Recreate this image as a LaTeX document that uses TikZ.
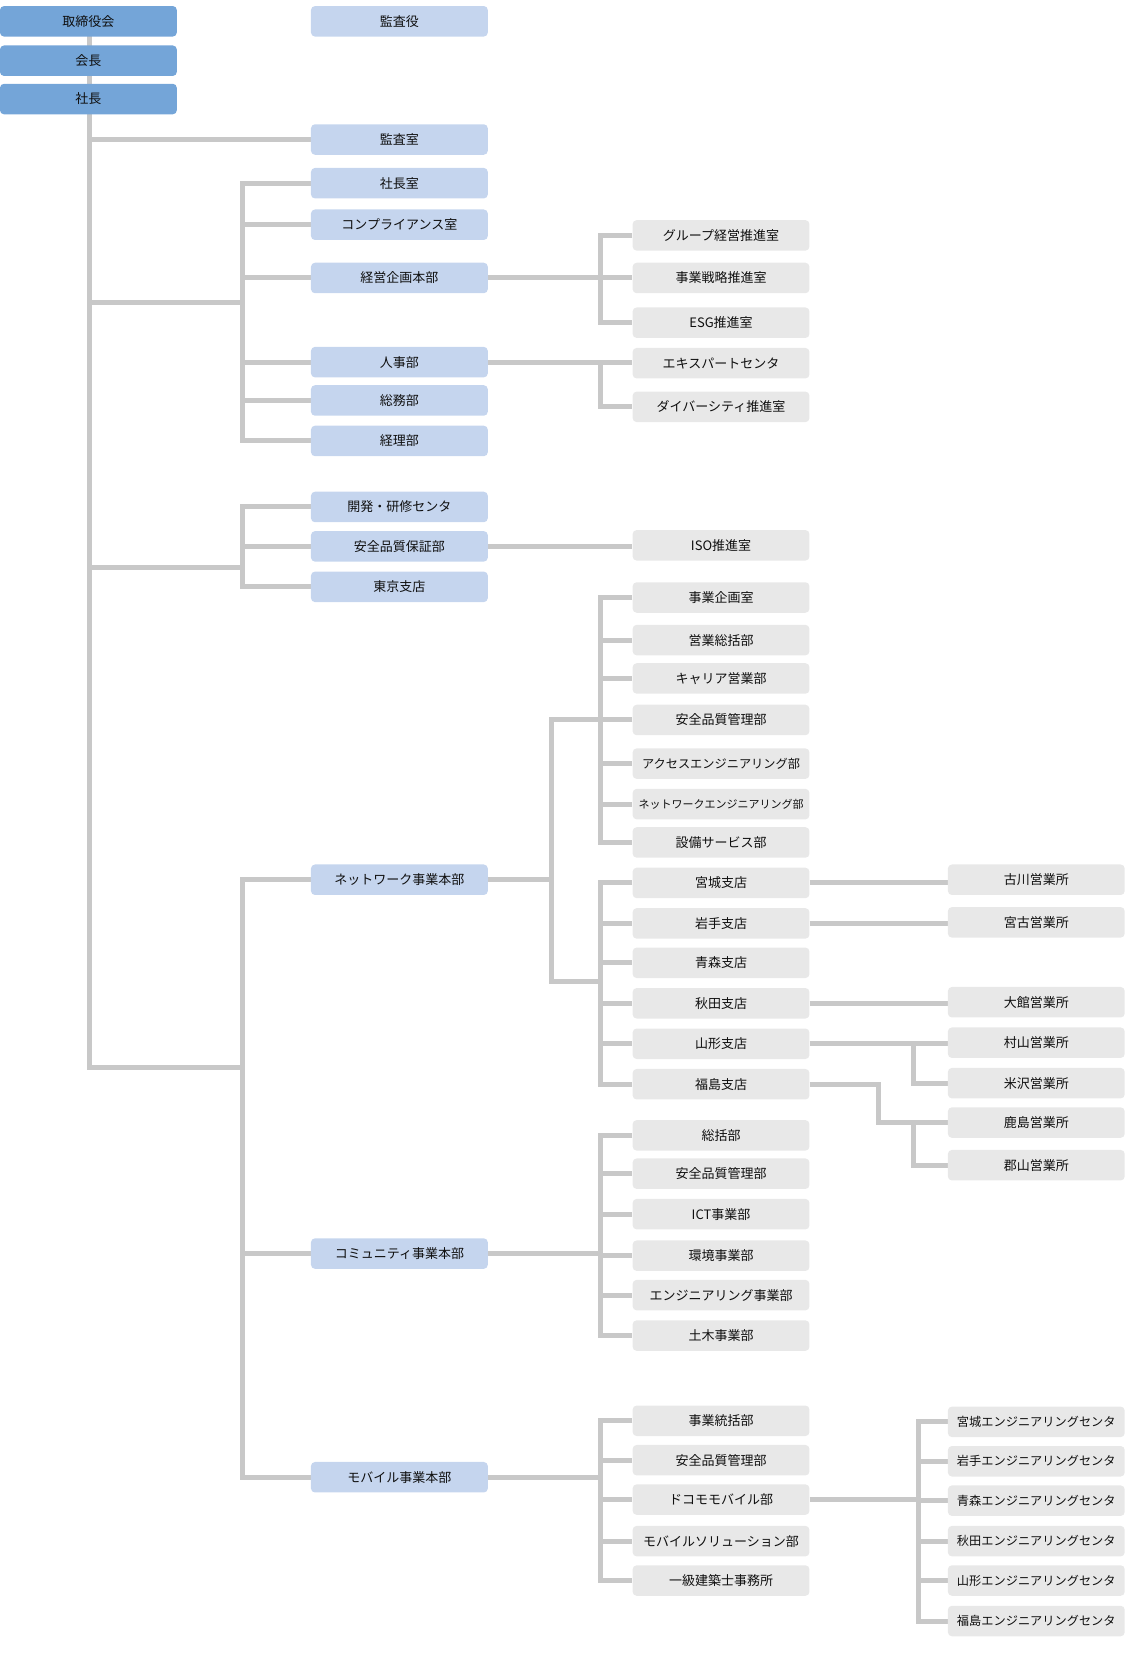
\documentclass[tikz,border=0pt]{standalone}
\usepackage{fontspec}
\setmainfont{Noto Sans CJK JP}
\usetikzlibrary{backgrounds}
\definecolor{topblue}{RGB}{116,165,216}
\definecolor{midblue}{RGB}{197,213,238}
\definecolor{boxgray}{RGB}{232,232,232}
\definecolor{linegray}{RGB}{200,200,200}
\definecolor{txt}{RGB}{15,15,15}
\tikzset{
  box/.style={rounded corners=4pt, minimum width=176.8pt, minimum height=30.5pt, inner sep=0pt, text=txt, font=\fontsize{13}{15}\selectfont},
  topbox/.style={box, fill=topblue},
  midbox/.style={box, fill=midblue},
  graybox/.style={box, fill=boxgray},
  smallf/.style={font=\fontsize{12.2}{14}\selectfont},
  tinyf/.style={font=\fontsize{11}{14}\selectfont},
  conn/.style={draw=linegray, line width=5pt},
}
\begin{document}
\begin{tikzpicture}[x=1.0649pt, y=-1.0649pt]
\useasboundingbox (0,0) rectangle (1063,1568);
% column 1
\node[topbox] (board) at (83,20) {取締役会};
\node[topbox] (chair) at (83,57) {会長};
\node[topbox] (pres) at (83,93) {社長};
% column 2
\node[midbox] (auditor) at (375,20) {監査役};
\node[midbox] (auditoff) at (375,131) {監査室};
\node[midbox] (presoff) at (375,172) {社長室};
\node[midbox] (compl) at (375,211) {コンプライアンス室};
\node[midbox] (plan) at (375,261) {経営企画本部};
\node[midbox] (hr) at (375,340) {人事部};
\node[midbox] (ga) at (375,376) {総務部};
\node[midbox] (acct) at (375,414) {経理部};
\node[midbox] (dev) at (375,476) {開発・研修センタ};
\node[midbox] (qa) at (375,513) {安全品質保証部};
\node[midbox] (tokyo) at (375,551) {東京支店};
\node[midbox] (nw) at (375,826) {ネットワーク事業本部};
\node[midbox] (comm) at (375,1177) {コミュニティ事業本部};
\node[midbox] (mob) at (375,1387) {モバイル事業本部};
% column 3
\node[graybox] (grp) at (677,221) {グループ経営推進室};
\node[graybox] (strat) at (677,261) {事業戦略推進室};
\node[graybox] (esg) at (677,303) {ESG推進室};
\node[graybox] (expert) at (677,341) {エキスパートセンタ};
\node[graybox] (div) at (677,382) {ダイバーシティ推進室};
\node[graybox] (iso) at (677,512) {ISO推進室};
\node[graybox] (nwa) at (677,561) {事業企画室};
\node[graybox] (nwb) at (677,601) {営業総括部};
\node[graybox] (nwc) at (677,637) {キャリア営業部};
\node[graybox] (nwd) at (677,676) {安全品質管理部};
\node[graybox, smallf] (nwe) at (677,717) {アクセスエンジニアリング部};
\node[graybox, tinyf] (nwf) at (677,755) {ネットワークエンジニアリング部};
\node[graybox] (nwg) at (677,791) {設備サービス部};
\node[graybox] (br1) at (677,829) {宮城支店};
\node[graybox] (br2) at (677,867) {岩手支店};
\node[graybox] (br3) at (677,904) {青森支店};
\node[graybox] (br4) at (677,942) {秋田支店};
\node[graybox] (br5) at (677,980) {山形支店};
\node[graybox] (br6) at (677,1018) {福島支店};
\node[graybox] (cma) at (677,1066) {総括部};
\node[graybox] (cmb) at (677,1102) {安全品質管理部};
\node[graybox] (cmc) at (677,1140) {ICT事業部};
\node[graybox] (cmd) at (677,1179) {環境事業部};
\node[graybox] (cme) at (677,1216) {エンジニアリング事業部};
\node[graybox] (cmf) at (677,1254) {土木事業部};
\node[graybox] (mba) at (677,1334) {事業統括部};
\node[graybox] (mbb) at (677,1371) {安全品質管理部};
\node[graybox] (mbc) at (677,1408) {ドコモモバイル部};
\node[graybox] (mbd) at (677,1447) {モバイルソリューション部};
\node[graybox] (mbe) at (677,1484) {一級建築士事務所};
% column 4
\node[graybox] (of1) at (973,826) {古川営業所};
\node[graybox] (of2) at (973,866) {宮古営業所};
\node[graybox] (of3) at (973,941) {大館営業所};
\node[graybox] (of4) at (973,979) {村山営業所};
\node[graybox] (of5) at (973,1017) {米沢営業所};
\node[graybox] (of6) at (973,1054) {鹿島営業所};
\node[graybox] (of7) at (973,1094) {郡山営業所};
\node[graybox, smallf] (ec1) at (973,1335) {宮城エンジニアリングセンタ};
\node[graybox, smallf] (ec2) at (973,1372) {岩手エンジニアリングセンタ};
\node[graybox, smallf] (ec3) at (973,1409) {青森エンジニアリングセンタ};
\node[graybox, smallf] (ec4) at (973,1447) {秋田エンジニアリングセンタ};
\node[graybox, smallf] (ec5) at (973,1484) {山形エンジニアリングセンタ};
\node[graybox, smallf] (ec6) at (973,1522) {福島エンジニアリングセンタ};
% junction coordinates
\coordinate (J1) at (84,284);
\coordinate (J2) at (84,533);
\coordinate (J3) at (84,1002);
\coordinate (B1) at (228,284);
\coordinate (B2) at (228,533);
\coordinate (B3) at (228,1002);
\coordinate (C) at (564,0);
\coordinate (D1) at (518,676);
\coordinate (D2) at (518,922);
\coordinate (C2) at (564,922);
\coordinate (E) at (858,0);
\coordinate (G) at (825,0);
\coordinate (F) at (862,0);
\begin{scope}[on background layer]
% trunk
\draw[conn] (board.center -| J3) -- (J3) -- (B3);
\draw[conn] (auditoff.west -| J3) -- (auditoff.west);
\draw[conn] (J1) -- (B1);
\draw[conn] (J2) -- (B2);
% group 1
\draw[conn] (presoff.west) -- (presoff.west -| B1) -- (acct.west -| B1) -- (acct.west);
\foreach \n in {compl,plan,hr,ga} \draw[conn] (\n.west -| B1) -- (\n.west);
% group 2
\draw[conn] (dev.west) -- (dev.west -| B2) -- (tokyo.west -| B2) -- (tokyo.west);
\draw[conn] (qa.west -| B2) -- (qa.west);
% group 3
\draw[conn] (nw.west) -- (nw.west -| B3) -- (mob.west -| B3) -- (mob.west);
\draw[conn] (comm.west -| B3) -- (comm.west);
% planning
\draw[conn] (plan.east) -- (strat.west);
\draw[conn] (grp.west) -- (grp.west -| C) -- (esg.west -| C) -- (esg.west);
% hr
\draw[conn] (hr.east) -- (hr.east -| expert.west);
\draw[conn] (hr.east -| C) -- (div.west -| C) -- (div.west);
% qa
\draw[conn] (qa.east) -- (qa.east -| iso.west);
% network
\draw[conn] (nw.east) -- (nw.east -| D1);
\draw[conn] (nwd.west) -- (D1) -- (D2) -- (C2);
\draw[conn] (nwa.west) -- (nwa.west -| C) -- (nwg.west -| C) -- (nwg.west);
\foreach \n in {nwb,nwc,nwe,nwf} \draw[conn] (\n.west -| C) -- (\n.west);
\draw[conn] (br1.west) -- (br1.west -| C) -- (br6.west -| C) -- (br6.west);
\foreach \n in {br2,br3,br4,br5} \draw[conn] (\n.west -| C) -- (\n.west);
% offices
\draw[conn] (br1.east) -- (br1.east -| of1.west);
\draw[conn] (br2.east) -- (br2.east -| of2.west);
\draw[conn] (br4.east) -- (br4.east -| of3.west);
\draw[conn] (br5.east) -- (br5.east -| of4.west);
\draw[conn] (br5.east -| E) -- (of5.west -| E) -- (of5.west);
\draw[conn] (br6.east) -- (br6.east -| G) -- (of6.west -| G) -- (of6.west);
\draw[conn] (of6.west -| E) -- (of7.west -| E) -- (of7.west);
% community
\draw[conn] (comm.east) -- (comm.east -| C);
\draw[conn] (cma.west) -- (cma.west -| C) -- (cmf.west -| C) -- (cmf.west);
\foreach \n in {cmb,cmc,cmd,cme} \draw[conn] (\n.west -| C) -- (\n.west);
% mobile
\draw[conn] (mob.east) -- (mob.east -| C);
\draw[conn] (mba.west) -- (mba.west -| C) -- (mbe.west -| C) -- (mbe.west);
\foreach \n in {mbb,mbc,mbd} \draw[conn] (\n.west -| C) -- (\n.west);
% docomo
\draw[conn] (mbc.east) -- (mbc.east -| F);
\draw[conn] (ec1.west) -- (ec1.west -| F) -- (ec6.west -| F) -- (ec6.west);
\foreach \n in {ec2,ec3,ec4,ec5} \draw[conn] (\n.west -| F) -- (\n.west);
\end{scope}
\end{tikzpicture}
\end{document}
